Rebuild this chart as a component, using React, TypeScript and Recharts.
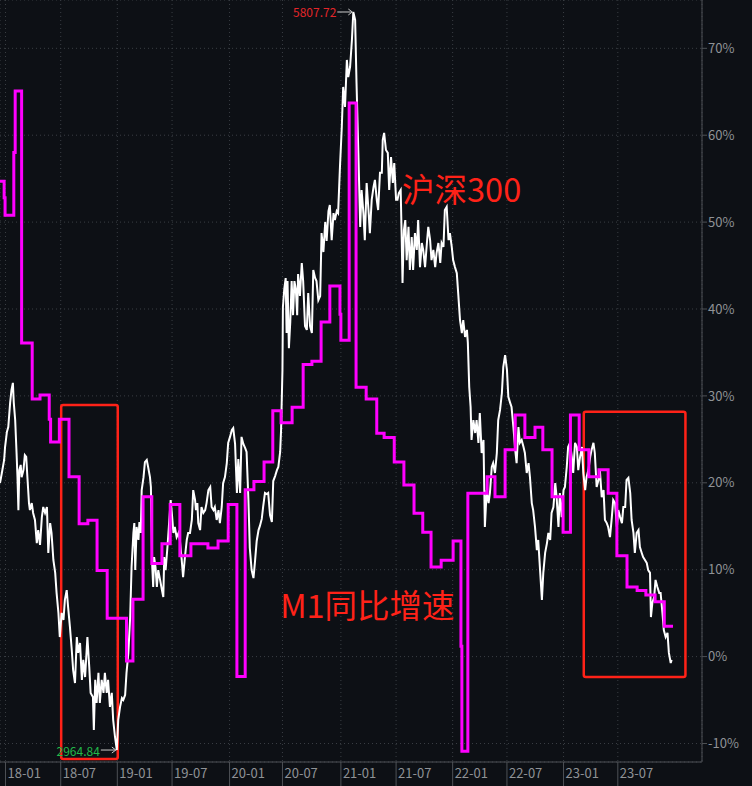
import React from 'react';
import { LineChart, Line, XAxis, YAxis, CartesianGrid, ReferenceArea, ReferenceDot } from 'recharts';

const FONT = '"Noto Sans CJK SC", "Noto Sans", sans-serif';

// trading-day index of each half-year tick
const xTickDays = [12, 132, 255, 374, 499, 614, 741, 861, 984, 1102, 1225, 1343];
const xTickLabels = ['18-01', '18-07', '19-01', '19-07', '20-01', '20-07', '21-01', '21-07', '22-01', '22-07', '23-01', '23-07'];
const pctTicks = [-10, 0, 10, 20, 30, 40, 50, 60, 70];

// CSI 300 close: [trading-day index, value]
const csi300: [number, number][] = [
  [0,3993],[4,4032],[9,4082],[11,4132],[15,4190],[18,4209],[22,4302],[25,4352],[28,4379],[30,4302],[33,4236],[36,4109],[38,4016],[40,3889],[42,4043],[45,4063],[47,4016],[51,4043],[54,4101],[57,4094],[59,4032],[63,3916],[65,3889],[69,3916],[72,3878],[76,3851],[80,3762],[83,3812],[87,3755],[91,3862],[94,3901],[98,3878],[102,3901],[105,3724],[109,3839],[112,3801],[116,3697],[120,3647],[123,3570],[127,3493],[130,3400],[134,3493],[138,3466],[141,3543],[145,3581],[148,3516],[152,3439],[156,3350],[159,3273],[163,3223],[167,3400],[170,3339],[174,3377],[178,3235],[181,3312],[185,3246],[190,3400],[194,3285],[197,3185],[202,3169],[204,3042],[207,3235],[210,3146],[214,3262],[217,3146],[221,3235],[225,3185],[228,3262],[232,3185],[235,3235],[239,3131],[243,3185],[246,3081],[250,3015],[254,2964.84],[257,3081],[261,3131],[265,3165],[268,3158],[272,3177],[275,3262],[279,3339],[283,3477],[284,3543],[286,3670],[290,3801],[292,3839],[294,3658],[297,3824],[301,3774],[303,3843],[306,3801],[308,3966],[312,4016],[315,4074],[319,4082],[322,4055],[326,4016],[328,3978],[331,3670],[333,3593],[335,3708],[338,3670],[341,3593],[344,3658],[348,3620],[352,3581],[355,3554],[357,3708],[360,3658],[364,3747],[367,3824],[371,3928],[373,3889],[377,3801],[380,3824],[384,3785],[388,3801],[391,3774],[395,3697],[398,3631],[402,3708],[406,3774],[409,3801],[413,3801],[417,3851],[420,3966],[424,3928],[426,3889],[429,3916],[431,3839],[435,3812],[438,3901],[442,3878],[446,3889],[449,3916],[453,3966],[457,3978],[460,3901],[464,3889],[467,3901],[471,3851],[475,3889],[478,3839],[482,3901],[485,3993],[489,4016],[493,4070],[496,4148],[500,4171],[504,4198],[507,4205],[511,4144],[515,3955],[518,4086],[522,3955],[525,4171],[529,4144],[533,4128],[536,4113],[540,3928],[543,3743],[547,3658],[551,3627],[554,3685],[558,3770],[562,3812],[565,3828],[569,3855],[572,3901],[576,3955],[580,3951],[583,3955],[587,3870],[591,3843],[594,4001],[598,4020],[602,4043],[605,4055],[609,4113],[611,4198],[614,4429],[615,4671],[618,4741],[621,4783],[623,4571],[625,4771],[628,4513],[631,4614],[634,4771],[637,4640],[640,4771],[643,4741],[646,4640],[648,4798],[652,4714],[656,4841],[659,4771],[663,4598],[667,4583],[670,4725],[674,4598],[678,4571],[681,4814],[685,4783],[688,4771],[692,4698],[696,4714],[699,4956],[703,4883],[707,4999],[710,4926],[714,5041],[717,5064],[721,4929],[725,5033],[728,5006],[732,5041],[735,5033],[739,5211],[743,5365],[746,5519],[750,5442],[754,5623],[757,5557],[761,5596],[765,5700],[768,5807.72],[772,5777],[775,5534],[779,5265],[783,4980],[786,5122],[790,5033],[793,4929],[797,5149],[801,5045],[804,4956],[808,5084],[812,5134],[815,5161],[819,5084],[822,5045],[826,5188],[830,5188],[832,5315],[835,5342],[839,5276],[843,5265],[846,5122],[850,5249],[854,5149],[857,5226],[861,5084],[864,5084],[867,5110],[871,5122],[873,4956],[875,4764],[878,4968],[881,5006],[884,4852],[888,4980],[891,4814],[895,4941],[898,4814],[902,4956],[906,4891],[909,5006],[913,4825],[917,4918],[920,4891],[924,4825],[928,4918],[931,4980],[935,4929],[938,4852],[942,4891],[946,4825],[949,4879],[953,4918],[957,4841],[960,4918],[964,4903],[967,5045],[971,5057],[975,4929],[978,4956],[982,4903],[985,4852],[989,4825],[993,4802],[996,4725],[1000,4621],[1004,4571],[1007,4621],[1011,4556],[1015,4583],[1017,4533],[1020,4363],[1023,4286],[1025,4159],[1029,4236],[1033,4186],[1036,4236],[1040,4148],[1043,4263],[1047,4109],[1051,4159],[1054,3824],[1058,3966],[1062,3916],[1065,3955],[1069,4055],[1072,4070],[1076,4032],[1080,4109],[1083,4236],[1087,4275],[1091,4340],[1094,4440],[1098,4486],[1102,4429],[1105,4325],[1109,4302],[1112,4286],[1116,4209],[1120,4121],[1123,4070],[1127,4209],[1130,4148],[1134,4159],[1138,4132],[1141,4109],[1145,4032],[1149,4070],[1152,4016],[1156,3916],[1159,3889],[1163,3824],[1167,3735],[1170,3774],[1174,3658],[1178,3543],[1181,3647],[1185,3724],[1189,3762],[1192,3801],[1196,3774],[1199,3878],[1203,3901],[1207,3993],[1210,3939],[1214,3824],[1217,3955],[1221,3862],[1225,3966],[1228,3978],[1232,4055],[1235,4132],[1239,4148],[1243,4094],[1246,4032],[1250,4148],[1254,4132],[1257,4043],[1261,4094],[1265,4132],[1268,4032],[1272,3966],[1275,4016],[1279,4043],[1283,4094],[1286,4121],[1290,4148],[1293,4109],[1297,3978],[1301,4005],[1304,4043],[1308,3939],[1312,3966],[1315,3851],[1319,3839],[1322,3824],[1326,3785],[1330,3862],[1333,3928],[1337,3916],[1341,3824],[1344,3889],[1348,3862],[1352,3839],[1355,3901],[1359,3901],[1362,4005],[1366,4013],[1370,3955],[1373,3851],[1377,3801],[1380,3724],[1384,3801],[1388,3812],[1391,3747],[1395,3724],[1398,3708],[1402,3697],[1406,3685],[1409,3658],[1413,3647],[1415,3477],[1418,3531],[1422,3554],[1425,3620],[1429,3593],[1433,3570],[1436,3570],[1440,3493],[1443,3427],[1447,3400],[1451,3416],[1454,3339],[1458,3300],[1460,3312]
];

// M1 YoY growth as plotted on the right axis: [trading-day index where step starts, value %]
const m1Growth: [number, number][] = [
  [0,54.7],[9,52.8],[11,50.8],[30,58.0],[33,65.1],[47,36.1],[70,29.65],[87,30.1],[107,27.3],[110,24.7],
  [129,27.3],[150,20.7],[172,15.3],[191,15.7],[211,9.9],[233,4.4],[275,-0.5],[289,6.6],[311,18.4],[330,10.7],
  [352,13.0],[370,17.5],[391,11.6],[415,13.0],[452,12.5],[474,13.3],[496,17.5],[515,-2.3],[533,19.2],[552,20.15],
  [574,22.4],[593,28.3],[611,26.9],[635,28.7],[659,33.6],[678,34.0],[698,38.5],[717,42.65],[739,39.4],[741,36.4],
  [759,63.7],[774,31.0],[796,29.65],[819,25.7],[835,25.2],[857,22.4],[878,19.75],[900,16.5],[919,14.3],[937,10.3],
  [959,11.1],[985,13.3],[1002,1.2],[1004,-10.9],[1017,18.8],[1059,20.7],[1076,18.4],[1098,23.8],[1120,27.8],[1141,25.2],
  [1163,26.4],[1180,23.8],[1200,18.4],[1224,14.3],[1240,27.8],[1259,23.8],[1280,20.7],[1302,21.5],[1322,18.8],[1341,11.6],
  [1363,8.0],[1385,7.6],[1404,7.1],[1424,6.3],[1444,3.5],[1463,3.5]
];

// annotation boxes (trading-day index, right-axis %)
const boxes = [
  { x1: 133, x2: 256, y1: -11.78, y2: 28.95 },
  { x1: 1269, x2: 1490, y1: -2.35, y2: 28.18 },
];
const notes = [
  { t: 874, pct: 52.3, text: '沪深300' },
  { t: 609, pct: 4.44, text: 'M1同比增速' },
];
const extremes = [
  { t: 768, v: 5807.72, color: '#e3262a' },
  { t: 254, v: 2964.84, color: '#22b84a' },
];

const csiData = csi300.map(([t, v]) => ({ t, v }));
const m1Data = m1Growth.map(([t, v]) => ({ t, v }));

const BG = '#0d1015';
const AXIS = '#4e5156';
const TXT = '#8f9296';
const RED = '#ff2218';

const XTick = (props: any) => {
  const { x, y, payload } = props;
  const i = xTickDays.indexOf(payload.value);
  return (
    <text x={x + 2} y={y - 14} fill={TXT} fontSize={13} fontFamily={FONT} dominantBaseline="central">
      {xTickLabels[i]}
    </text>
  );
};

const ExtremeLabel = (props: any) => {
  const { cx, cy, label, color } = props;
  if (cx == null || cy == null) return null;
  const tip = cx - 1;
  const start = cx - 16;
  return (
    <g>
      <line x1={start} y1={cy} x2={tip} y2={cy} stroke="#c9c9c9" strokeWidth={1} />
      <polyline points={`${tip - 4},${cy - 3} ${tip},${cy} ${tip - 4},${cy + 3}`} fill="none" stroke="#c9c9c9" strokeWidth={1} />
      <text x={start - 1} y={cy} textAnchor="end" dominantBaseline="central" fill={color} fontSize={12} fontFamily={FONT}>
        {label}
      </text>
    </g>
  );
};

const NoteText = (props: any) => {
  const { cx, cy, text } = props;
  if (cx == null || cy == null) return null;
  return (
    <text x={cx} y={cy} fill={RED} fontSize={32.5} fontFamily={FONT}>
      {text}
    </text>
  );
};

const BoxShape = (props: any) => {
  const { x, y, width, height } = props;
  if (x == null) return null;
  return <rect x={x} y={y} width={width} height={height} rx={2} ry={2} fill="none" stroke={RED} strokeWidth={2.5} />;
};

export default function App() {
  return (
    <div style={{ position: 'fixed', left: 0, top: 0, width: 752, height: 786, background: BG, overflow: 'hidden' }}>
      <LineChart width={752} height={786} margin={{ top: 0, right: 0, bottom: 0, left: 0 }} style={{ fontFamily: FONT }}>
        <CartesianGrid yAxisId="pct" stroke="#3a3e44" strokeDasharray="1 3" fill="none" />
        <XAxis
          type="number"
          dataKey="t"
          domain={[0, 1526]}
          allowDataOverflow
          ticks={xTickDays}
          interval={0}
          height={24}
          tickSize={24}
          tickMargin={0}
          axisLine={{ stroke: AXIS }}
          tickLine={{ stroke: AXIS }}
          tick={<XTick />}
        />
        <YAxis
          yAxisId="pct"
          orientation="right"
          width={50}
          domain={[-12.13, 75.56]}
          allowDataOverflow
          ticks={pctTicks}
          interval={0}
          tickSize={5}
          tickMargin={1}
          axisLine={{ stroke: AXIS }}
          tickLine={{ stroke: AXIS }}
          tick={{ fill: TXT, fontSize: 13, fontFamily: FONT }}
          tickFormatter={(v: number) => `${v}%`}
        />
        <YAxis yAxisId="px" hide domain={[2918.7, 5853.9]} allowDataOverflow />
        <Line
          yAxisId="px"
          data={csiData}
          dataKey="v"
          type="linear"
          stroke="#ffffff"
          strokeWidth={2}
          dot={false}
          activeDot={false}
          isAnimationActive={false}
        />
        <Line
          yAxisId="pct"
          data={m1Data}
          dataKey="v"
          type="stepAfter"
          stroke="#ff00ff"
          strokeWidth={3}
          dot={false}
          activeDot={false}
          isAnimationActive={false}
        />
        {boxes.map((b, i) => (
          <ReferenceArea
            key={'b' + i}
            yAxisId="pct"
            x1={b.x1}
            x2={b.x2}
            y1={b.y1}
            y2={b.y2}
            ifOverflow="visible"
            shape={<BoxShape />}
          />
        ))}
        {notes.map((n, i) => (
          <ReferenceDot
            key={'n' + i}
            yAxisId="pct"
            x={n.t}
            y={n.pct}
            r={0}
            ifOverflow="visible"
            shape={(p: any) => <NoteText {...p} text={n.text} />}
          />
        ))}
        {extremes.map((e, i) => (
          <ReferenceDot
            key={'e' + i}
            yAxisId="px"
            x={e.t}
            y={e.v}
            r={0}
            ifOverflow="visible"
            shape={(p: any) => <ExtremeLabel {...p} label={e.v.toFixed(2)} color={e.color} />}
          />
        ))}
      </LineChart>
    </div>
  );
}
